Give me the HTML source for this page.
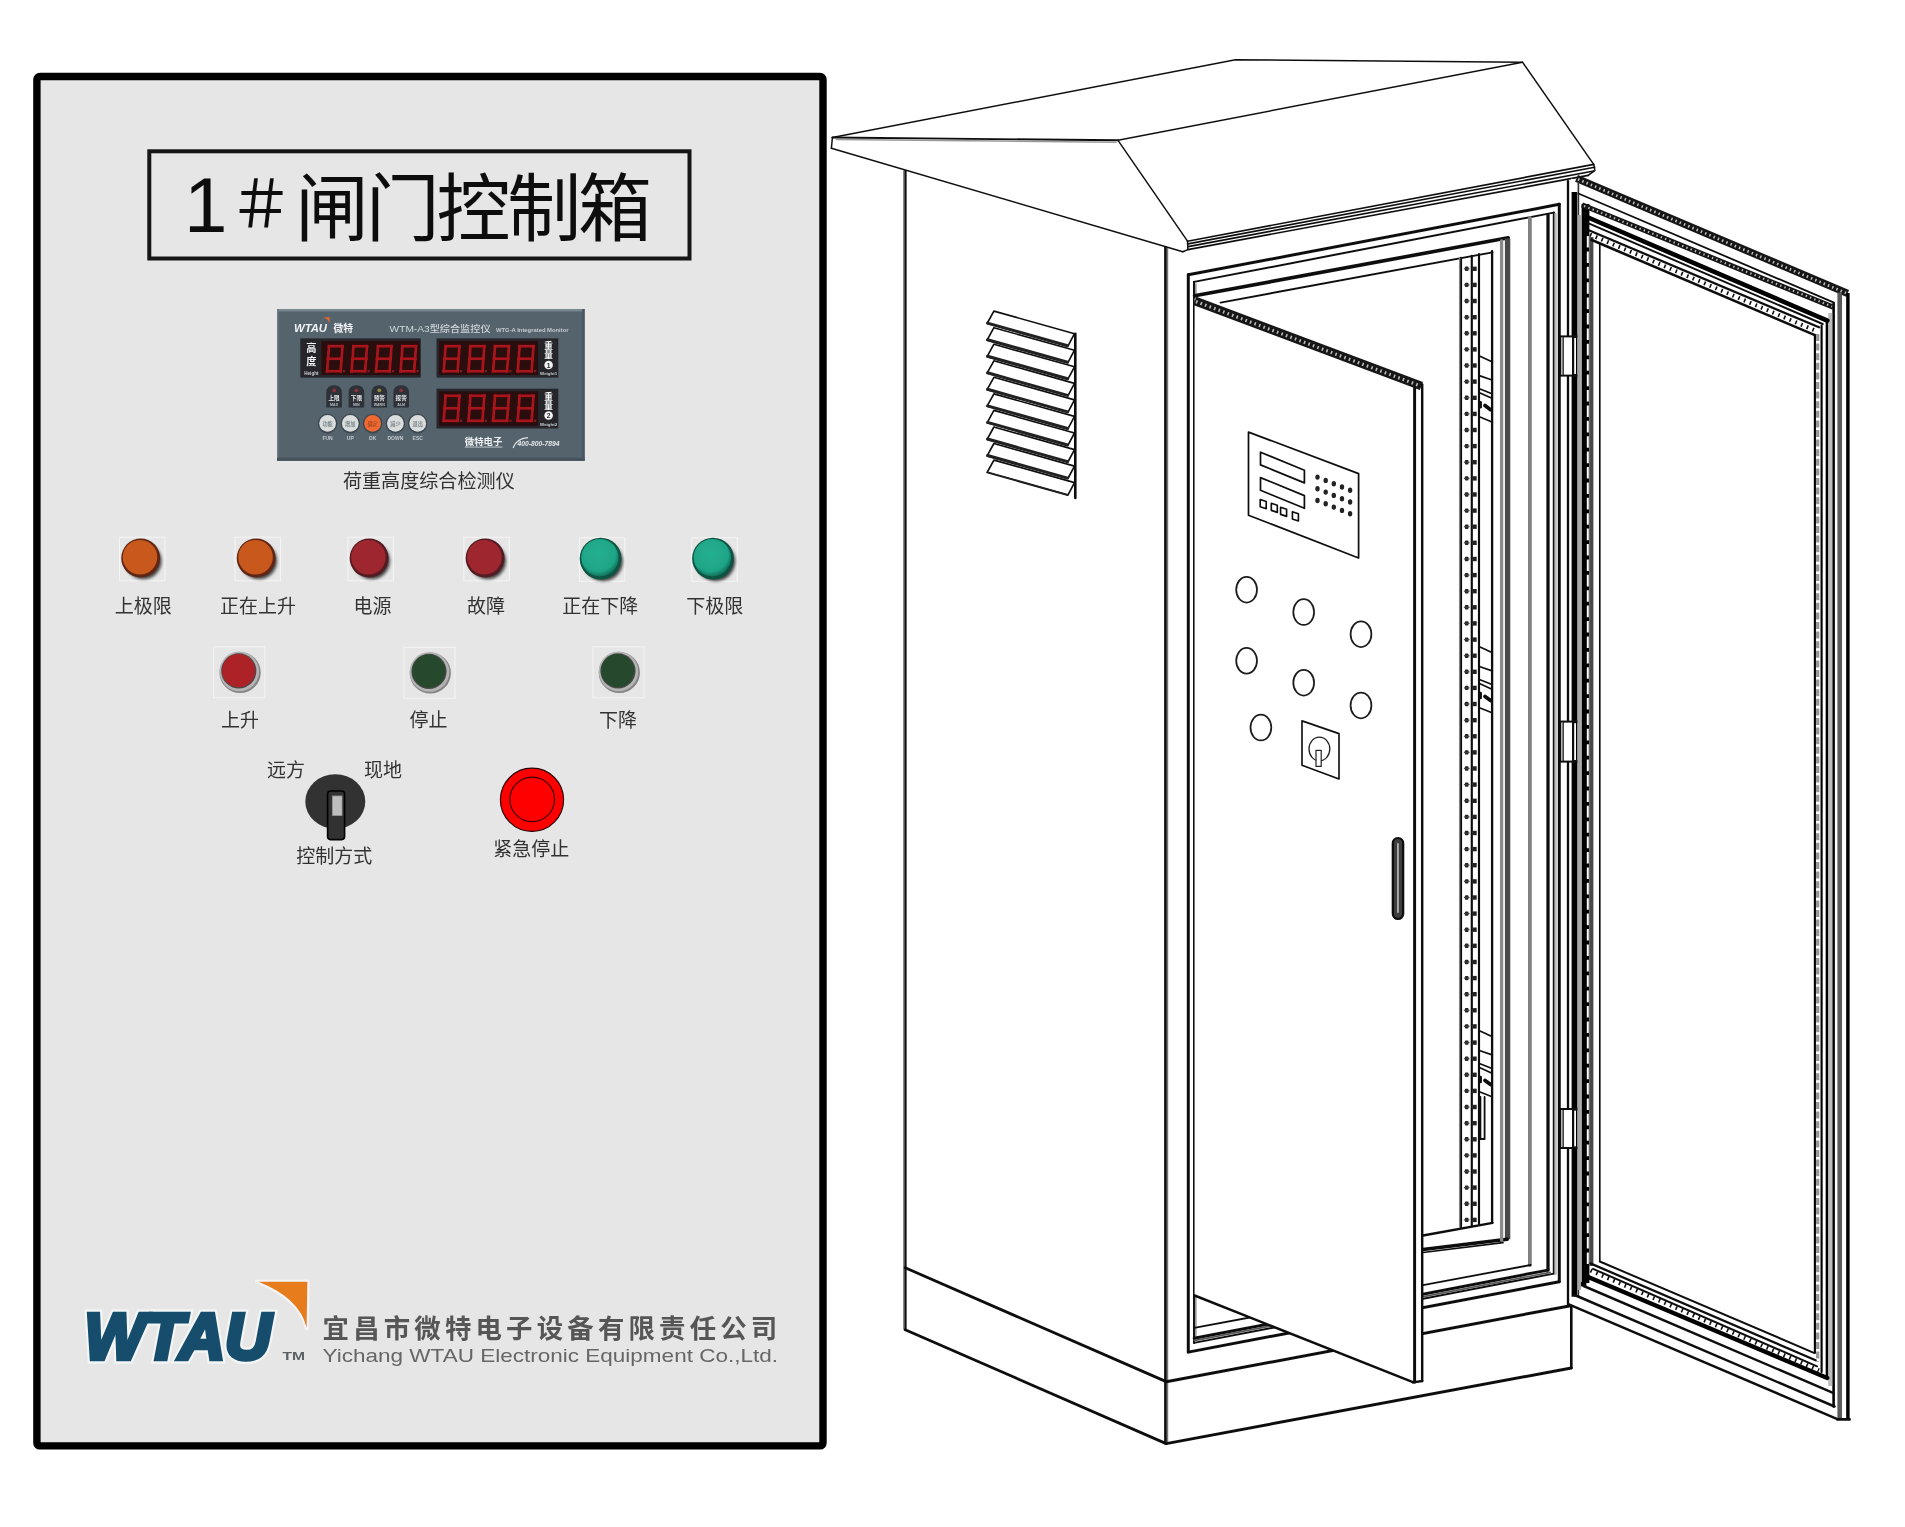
<!DOCTYPE html>
<html lang="zh-CN"><head><meta charset="utf-8"><title>1＃闸门控制箱</title>
<style>html,body{margin:0;padding:0;background:#fff;}body{width:1905px;height:1527px;overflow:hidden;}svg{display:block;}text{font-family:"Liberation Sans", "Noto Sans CJK SC", sans-serif;}</style>
</head><body>
<svg width="1905" height="1527" viewBox="0 0 1905 1527">
<defs>
<filter id="b1" x="-20%" y="-20%" width="140%" height="140%"><feGaussianBlur stdDeviation="0.6"/></filter>
<filter id="b2" x="-30%" y="-30%" width="160%" height="160%"><feGaussianBlur stdDeviation="1.6"/></filter>
<filter id="bl" x="-2%" y="-2%" width="104%" height="104%"><feGaussianBlur stdDeviation="0.35"/></filter>
<filter id="bd" x="-2%" y="-2%" width="104%" height="104%"><feGaussianBlur stdDeviation="0.7"/></filter>
<filter id="bt" x="-5%" y="-20%" width="110%" height="140%"><feGaussianBlur stdDeviation="0.45"/></filter>
<radialGradient id="gOrange" cx="45%" cy="42%" r="60%"><stop offset="0" stop-color="#cf5b1c"/><stop offset="0.8" stop-color="#c8561b"/><stop offset="1" stop-color="#8a3a1a"/></radialGradient>
<radialGradient id="gRed" cx="45%" cy="42%" r="60%"><stop offset="0" stop-color="#a32630"/><stop offset="0.8" stop-color="#9c242d"/><stop offset="1" stop-color="#6a1a22"/></radialGradient>
<radialGradient id="gGreen" cx="45%" cy="40%" r="62%"><stop offset="0" stop-color="#22b090"/><stop offset="0.75" stop-color="#1fa587"/><stop offset="1" stop-color="#0e6a55"/></radialGradient>
</defs>
<rect x="36.9" y="76.5" width="786.1" height="1369.4" rx="3" ry="3" fill="#e6e6e6" stroke="#000" stroke-width="7.4"/>
<rect x="149.3" y="151.3" width="540.2" height="107.2" fill="none" stroke="#161616" stroke-width="4" filter="url(#bt)"/>
<text y="234.5" font-size="74" fill="#0c0c0c" font-weight="400" filter="url(#bt)"><tspan x="184" font-size="78" y="231.6">1</tspan><tspan x="229" font-size="64" y="227.2">＃</tspan><tspan x="294.9 365.7 436.5 507.3 578.1" y="234.5">闸门控制箱</tspan></text>
<g filter="url(#bd)">
<rect x="277" y="309" width="307.6" height="151.8" fill="#55636d"/>
<rect x="277" y="309" width="307.6" height="2.4" fill="#768890"/>
<rect x="277" y="309" width="1.6" height="151.8" fill="#6a7a82"/>
<rect x="277" y="457.6" width="307.6" height="3.2" fill="#47535c"/>
<rect x="582.2" y="309" width="2.4" height="151.8" fill="#495660"/>
<text x="294.0" y="332.4" font-size="10.5" fill="#f1f3f4" text-anchor="start" font-weight="700" font-style="italic" textLength="33" lengthAdjust="spacingAndGlyphs">WTAU</text>
<path d="M323.5 317.2 L329.6 317.2 L329.6 323.6 Q328.6 319.2 323.5 317.2 Z" fill="#e8642a"/>
<text x="333.4" y="331.8" font-size="9.8" fill="#f1f3f4" text-anchor="start" font-weight="700" >微特</text>
<text x="389.6" y="331.8" font-size="9.4" fill="#cfd5d9" text-anchor="start" font-weight="500" textLength="101" lengthAdjust="spacingAndGlyphs">WTM-A3型综合监控仪</text>
<text x="496.0" y="331.6" font-size="6.2" fill="#c4cbd0" text-anchor="start" font-weight="700" textLength="72.5" lengthAdjust="spacingAndGlyphs">WTG-A Integrated Monitor</text>
<rect x="300.3" y="338.4" width="120.5" height="39.2" fill="#25272c"/>
<rect x="321.3" y="341" width="98.7" height="34" fill="#2b0c10"/>
<line x1="329.0" y1="346.2" x2="342.5" y2="346.2" stroke="#a8151d" stroke-width="2.7" stroke-linecap="square"/>
<line x1="342.5" y1="346.2" x2="341.6" y2="358.7" stroke="#a8151d" stroke-width="2.7" stroke-linecap="square"/>
<line x1="341.6" y1="358.7" x2="340.6" y2="371.2" stroke="#a8151d" stroke-width="2.7" stroke-linecap="square"/>
<line x1="327.1" y1="371.2" x2="340.6" y2="371.2" stroke="#a8151d" stroke-width="2.7" stroke-linecap="square"/>
<line x1="328.1" y1="358.7" x2="327.1" y2="371.2" stroke="#a8151d" stroke-width="2.7" stroke-linecap="square"/>
<line x1="329.0" y1="346.2" x2="328.1" y2="358.7" stroke="#a8151d" stroke-width="2.7" stroke-linecap="square"/>
<line x1="328.1" y1="358.7" x2="341.6" y2="358.7" stroke="#a8151d" stroke-width="2.7" stroke-linecap="square"/>
<rect x="343.0" y="370.0" width="2.2" height="2.4" fill="#7a1a20"/>
<line x1="353.5" y1="346.2" x2="367.0" y2="346.2" stroke="#a8151d" stroke-width="2.7" stroke-linecap="square"/>
<line x1="367.0" y1="346.2" x2="366.1" y2="358.7" stroke="#a8151d" stroke-width="2.7" stroke-linecap="square"/>
<line x1="366.1" y1="358.7" x2="365.1" y2="371.2" stroke="#a8151d" stroke-width="2.7" stroke-linecap="square"/>
<line x1="351.6" y1="371.2" x2="365.1" y2="371.2" stroke="#a8151d" stroke-width="2.7" stroke-linecap="square"/>
<line x1="352.6" y1="358.7" x2="351.6" y2="371.2" stroke="#a8151d" stroke-width="2.7" stroke-linecap="square"/>
<line x1="353.5" y1="346.2" x2="352.6" y2="358.7" stroke="#a8151d" stroke-width="2.7" stroke-linecap="square"/>
<line x1="352.6" y1="358.7" x2="366.1" y2="358.7" stroke="#a8151d" stroke-width="2.7" stroke-linecap="square"/>
<rect x="367.5" y="370.0" width="2.2" height="2.4" fill="#7a1a20"/>
<line x1="378.0" y1="346.2" x2="391.5" y2="346.2" stroke="#a8151d" stroke-width="2.7" stroke-linecap="square"/>
<line x1="391.5" y1="346.2" x2="390.6" y2="358.7" stroke="#a8151d" stroke-width="2.7" stroke-linecap="square"/>
<line x1="390.6" y1="358.7" x2="389.6" y2="371.2" stroke="#a8151d" stroke-width="2.7" stroke-linecap="square"/>
<line x1="376.1" y1="371.2" x2="389.6" y2="371.2" stroke="#a8151d" stroke-width="2.7" stroke-linecap="square"/>
<line x1="377.1" y1="358.7" x2="376.1" y2="371.2" stroke="#a8151d" stroke-width="2.7" stroke-linecap="square"/>
<line x1="378.0" y1="346.2" x2="377.1" y2="358.7" stroke="#a8151d" stroke-width="2.7" stroke-linecap="square"/>
<line x1="377.1" y1="358.7" x2="390.6" y2="358.7" stroke="#a8151d" stroke-width="2.7" stroke-linecap="square"/>
<rect x="392.0" y="370.0" width="2.2" height="2.4" fill="#7a1a20"/>
<line x1="402.5" y1="346.2" x2="416.0" y2="346.2" stroke="#a8151d" stroke-width="2.7" stroke-linecap="square"/>
<line x1="416.0" y1="346.2" x2="415.1" y2="358.7" stroke="#a8151d" stroke-width="2.7" stroke-linecap="square"/>
<line x1="415.1" y1="358.7" x2="414.1" y2="371.2" stroke="#a8151d" stroke-width="2.7" stroke-linecap="square"/>
<line x1="400.6" y1="371.2" x2="414.1" y2="371.2" stroke="#a8151d" stroke-width="2.7" stroke-linecap="square"/>
<line x1="401.6" y1="358.7" x2="400.6" y2="371.2" stroke="#a8151d" stroke-width="2.7" stroke-linecap="square"/>
<line x1="402.5" y1="346.2" x2="401.6" y2="358.7" stroke="#a8151d" stroke-width="2.7" stroke-linecap="square"/>
<line x1="401.6" y1="358.7" x2="415.1" y2="358.7" stroke="#a8151d" stroke-width="2.7" stroke-linecap="square"/>
<rect x="416.5" y="370.0" width="2.2" height="2.4" fill="#7a1a20"/>
<rect x="436.5" y="338.4" width="121.8" height="39.2" fill="#25272c"/>
<rect x="439.2" y="341" width="99" height="34" fill="#2b0c10"/>
<line x1="445.6" y1="346.2" x2="459.5" y2="346.2" stroke="#a8151d" stroke-width="2.7" stroke-linecap="square"/>
<line x1="459.5" y1="346.2" x2="458.6" y2="358.7" stroke="#a8151d" stroke-width="2.7" stroke-linecap="square"/>
<line x1="458.6" y1="358.7" x2="457.6" y2="371.2" stroke="#a8151d" stroke-width="2.7" stroke-linecap="square"/>
<line x1="443.7" y1="371.2" x2="457.6" y2="371.2" stroke="#a8151d" stroke-width="2.7" stroke-linecap="square"/>
<line x1="444.7" y1="358.7" x2="443.7" y2="371.2" stroke="#a8151d" stroke-width="2.7" stroke-linecap="square"/>
<line x1="445.6" y1="346.2" x2="444.7" y2="358.7" stroke="#a8151d" stroke-width="2.7" stroke-linecap="square"/>
<line x1="444.7" y1="358.7" x2="458.6" y2="358.7" stroke="#a8151d" stroke-width="2.7" stroke-linecap="square"/>
<rect x="460.0" y="370.0" width="2.2" height="2.4" fill="#7a1a20"/>
<line x1="470.4" y1="346.2" x2="484.3" y2="346.2" stroke="#a8151d" stroke-width="2.7" stroke-linecap="square"/>
<line x1="484.3" y1="346.2" x2="483.4" y2="358.7" stroke="#a8151d" stroke-width="2.7" stroke-linecap="square"/>
<line x1="483.4" y1="358.7" x2="482.4" y2="371.2" stroke="#a8151d" stroke-width="2.7" stroke-linecap="square"/>
<line x1="468.5" y1="371.2" x2="482.4" y2="371.2" stroke="#a8151d" stroke-width="2.7" stroke-linecap="square"/>
<line x1="469.5" y1="358.7" x2="468.5" y2="371.2" stroke="#a8151d" stroke-width="2.7" stroke-linecap="square"/>
<line x1="470.4" y1="346.2" x2="469.5" y2="358.7" stroke="#a8151d" stroke-width="2.7" stroke-linecap="square"/>
<line x1="469.5" y1="358.7" x2="483.4" y2="358.7" stroke="#a8151d" stroke-width="2.7" stroke-linecap="square"/>
<rect x="484.8" y="370.0" width="2.2" height="2.4" fill="#7a1a20"/>
<line x1="495.0" y1="346.2" x2="508.9" y2="346.2" stroke="#a8151d" stroke-width="2.7" stroke-linecap="square"/>
<line x1="508.9" y1="346.2" x2="508.0" y2="358.7" stroke="#a8151d" stroke-width="2.7" stroke-linecap="square"/>
<line x1="508.0" y1="358.7" x2="507.0" y2="371.2" stroke="#a8151d" stroke-width="2.7" stroke-linecap="square"/>
<line x1="493.1" y1="371.2" x2="507.0" y2="371.2" stroke="#a8151d" stroke-width="2.7" stroke-linecap="square"/>
<line x1="494.1" y1="358.7" x2="493.1" y2="371.2" stroke="#a8151d" stroke-width="2.7" stroke-linecap="square"/>
<line x1="495.0" y1="346.2" x2="494.1" y2="358.7" stroke="#a8151d" stroke-width="2.7" stroke-linecap="square"/>
<line x1="494.1" y1="358.7" x2="508.0" y2="358.7" stroke="#a8151d" stroke-width="2.7" stroke-linecap="square"/>
<rect x="509.4" y="370.0" width="2.2" height="2.4" fill="#7a1a20"/>
<line x1="519.6" y1="346.2" x2="533.5" y2="346.2" stroke="#a8151d" stroke-width="2.7" stroke-linecap="square"/>
<line x1="533.5" y1="346.2" x2="532.6" y2="358.7" stroke="#a8151d" stroke-width="2.7" stroke-linecap="square"/>
<line x1="532.6" y1="358.7" x2="531.6" y2="371.2" stroke="#a8151d" stroke-width="2.7" stroke-linecap="square"/>
<line x1="517.7" y1="371.2" x2="531.6" y2="371.2" stroke="#a8151d" stroke-width="2.7" stroke-linecap="square"/>
<line x1="518.7" y1="358.7" x2="517.7" y2="371.2" stroke="#a8151d" stroke-width="2.7" stroke-linecap="square"/>
<line x1="519.6" y1="346.2" x2="518.7" y2="358.7" stroke="#a8151d" stroke-width="2.7" stroke-linecap="square"/>
<line x1="518.7" y1="358.7" x2="532.6" y2="358.7" stroke="#a8151d" stroke-width="2.7" stroke-linecap="square"/>
<rect x="534.0" y="370.0" width="2.2" height="2.4" fill="#7a1a20"/>
<rect x="436.5" y="388.7" width="121.8" height="39.8" fill="#25272c"/>
<rect x="439.2" y="391.4" width="99" height="34.4" fill="#2b0c10"/>
<line x1="445.6" y1="395.8" x2="459.5" y2="395.8" stroke="#a8151d" stroke-width="2.7" stroke-linecap="square"/>
<line x1="459.5" y1="395.8" x2="458.6" y2="408.3" stroke="#a8151d" stroke-width="2.7" stroke-linecap="square"/>
<line x1="458.6" y1="408.3" x2="457.6" y2="420.8" stroke="#a8151d" stroke-width="2.7" stroke-linecap="square"/>
<line x1="443.7" y1="420.8" x2="457.6" y2="420.8" stroke="#a8151d" stroke-width="2.7" stroke-linecap="square"/>
<line x1="444.7" y1="408.3" x2="443.7" y2="420.8" stroke="#a8151d" stroke-width="2.7" stroke-linecap="square"/>
<line x1="445.6" y1="395.8" x2="444.7" y2="408.3" stroke="#a8151d" stroke-width="2.7" stroke-linecap="square"/>
<line x1="444.7" y1="408.3" x2="458.6" y2="408.3" stroke="#a8151d" stroke-width="2.7" stroke-linecap="square"/>
<rect x="460.0" y="419.6" width="2.2" height="2.4" fill="#7a1a20"/>
<line x1="470.4" y1="395.8" x2="484.3" y2="395.8" stroke="#a8151d" stroke-width="2.7" stroke-linecap="square"/>
<line x1="484.3" y1="395.8" x2="483.4" y2="408.3" stroke="#a8151d" stroke-width="2.7" stroke-linecap="square"/>
<line x1="483.4" y1="408.3" x2="482.4" y2="420.8" stroke="#a8151d" stroke-width="2.7" stroke-linecap="square"/>
<line x1="468.5" y1="420.8" x2="482.4" y2="420.8" stroke="#a8151d" stroke-width="2.7" stroke-linecap="square"/>
<line x1="469.5" y1="408.3" x2="468.5" y2="420.8" stroke="#a8151d" stroke-width="2.7" stroke-linecap="square"/>
<line x1="470.4" y1="395.8" x2="469.5" y2="408.3" stroke="#a8151d" stroke-width="2.7" stroke-linecap="square"/>
<line x1="469.5" y1="408.3" x2="483.4" y2="408.3" stroke="#a8151d" stroke-width="2.7" stroke-linecap="square"/>
<rect x="484.8" y="419.6" width="2.2" height="2.4" fill="#7a1a20"/>
<line x1="495.0" y1="395.8" x2="508.9" y2="395.8" stroke="#a8151d" stroke-width="2.7" stroke-linecap="square"/>
<line x1="508.9" y1="395.8" x2="508.0" y2="408.3" stroke="#a8151d" stroke-width="2.7" stroke-linecap="square"/>
<line x1="508.0" y1="408.3" x2="507.0" y2="420.8" stroke="#a8151d" stroke-width="2.7" stroke-linecap="square"/>
<line x1="493.1" y1="420.8" x2="507.0" y2="420.8" stroke="#a8151d" stroke-width="2.7" stroke-linecap="square"/>
<line x1="494.1" y1="408.3" x2="493.1" y2="420.8" stroke="#a8151d" stroke-width="2.7" stroke-linecap="square"/>
<line x1="495.0" y1="395.8" x2="494.1" y2="408.3" stroke="#a8151d" stroke-width="2.7" stroke-linecap="square"/>
<line x1="494.1" y1="408.3" x2="508.0" y2="408.3" stroke="#a8151d" stroke-width="2.7" stroke-linecap="square"/>
<rect x="509.4" y="419.6" width="2.2" height="2.4" fill="#7a1a20"/>
<line x1="519.6" y1="395.8" x2="533.5" y2="395.8" stroke="#a8151d" stroke-width="2.7" stroke-linecap="square"/>
<line x1="533.5" y1="395.8" x2="532.6" y2="408.3" stroke="#a8151d" stroke-width="2.7" stroke-linecap="square"/>
<line x1="532.6" y1="408.3" x2="531.6" y2="420.8" stroke="#a8151d" stroke-width="2.7" stroke-linecap="square"/>
<line x1="517.7" y1="420.8" x2="531.6" y2="420.8" stroke="#a8151d" stroke-width="2.7" stroke-linecap="square"/>
<line x1="518.7" y1="408.3" x2="517.7" y2="420.8" stroke="#a8151d" stroke-width="2.7" stroke-linecap="square"/>
<line x1="519.6" y1="395.8" x2="518.7" y2="408.3" stroke="#a8151d" stroke-width="2.7" stroke-linecap="square"/>
<line x1="518.7" y1="408.3" x2="532.6" y2="408.3" stroke="#a8151d" stroke-width="2.7" stroke-linecap="square"/>
<rect x="534.0" y="419.6" width="2.2" height="2.4" fill="#7a1a20"/>
<text x="311.4" y="351.8" font-size="10.2" fill="#f4f6f7" text-anchor="middle" font-weight="700" >高</text>
<text x="311.4" y="365.2" font-size="10.2" fill="#f4f6f7" text-anchor="middle" font-weight="700" >度</text>
<text x="311.4" y="375.2" font-size="4.6" fill="#c9ced2" text-anchor="middle" font-weight="700" >Height</text>
<text x="548.6" y="349.0" font-size="8.6" fill="#f4f6f7" text-anchor="middle" font-weight="700" >重</text>
<text x="548.6" y="358.0" font-size="8.6" fill="#f4f6f7" text-anchor="middle" font-weight="700" >量</text>
<circle cx="548.6" cy="365.0" r="4.3" fill="#f1f3f4"/>
<text x="548.6" y="367.6" font-size="6.6" fill="#25272c" text-anchor="middle" font-weight="700" >1</text>
<text x="548.6" y="375.0" font-size="4.4" fill="#c9ced2" text-anchor="middle" font-weight="700" >Weight1</text>
<text x="548.6" y="399.5" font-size="8.6" fill="#f4f6f7" text-anchor="middle" font-weight="700" >重</text>
<text x="548.6" y="408.5" font-size="8.6" fill="#f4f6f7" text-anchor="middle" font-weight="700" >量</text>
<circle cx="548.6" cy="415.5" r="4.3" fill="#f1f3f4"/>
<text x="548.6" y="418.1" font-size="6.6" fill="#25272c" text-anchor="middle" font-weight="700" >2</text>
<text x="548.6" y="425.5" font-size="4.4" fill="#c9ced2" text-anchor="middle" font-weight="700" >Weight2</text>
<path d="M326.3 407.6 L326.3 393 Q326.3 385.2 334.1 385.2 Q341.9 385.2 341.9 393 L341.9 407.6 Z" fill="#2d3238"/>
<circle cx="334.1" cy="390.3" r="1.9" fill="#8a3038"/>
<text x="334.1" y="400.4" font-size="5.6" fill="#e4e8ea" text-anchor="middle" font-weight="700" >上限</text>
<text x="334.1" y="405.8" font-size="3.6" fill="#b9c0c5" text-anchor="middle" font-weight="700" >MAX</text>
<path d="M348.6 407.6 L348.6 393 Q348.6 385.2 356.4 385.2 Q364.2 385.2 364.2 393 L364.2 407.6 Z" fill="#2d3238"/>
<circle cx="356.4" cy="390.3" r="1.9" fill="#8a3038"/>
<text x="356.4" y="400.4" font-size="5.6" fill="#e4e8ea" text-anchor="middle" font-weight="700" >下限</text>
<text x="356.4" y="405.8" font-size="3.6" fill="#b9c0c5" text-anchor="middle" font-weight="700" >MIN</text>
<path d="M371.5 407.6 L371.5 393 Q371.5 385.2 379.3 385.2 Q387.1 385.2 387.1 393 L387.1 407.6 Z" fill="#2d3238"/>
<circle cx="379.3" cy="390.3" r="1.9" fill="#8f8638"/>
<text x="379.3" y="400.4" font-size="5.6" fill="#e4e8ea" text-anchor="middle" font-weight="700" >预警</text>
<text x="379.3" y="405.8" font-size="3.6" fill="#b9c0c5" text-anchor="middle" font-weight="700" >WARN</text>
<path d="M393.4 407.6 L393.4 393 Q393.4 385.2 401.2 385.2 Q409.0 385.2 409.0 393 L409.0 407.6 Z" fill="#2d3238"/>
<circle cx="401.2" cy="390.3" r="1.9" fill="#8a3038"/>
<text x="401.2" y="400.4" font-size="5.6" fill="#e4e8ea" text-anchor="middle" font-weight="700" >报警</text>
<text x="401.2" y="405.8" font-size="3.6" fill="#b9c0c5" text-anchor="middle" font-weight="700" >ALM</text>
<circle cx="327.6" cy="423.6" r="9.8" fill="#3c464e"/>
<circle cx="327.6" cy="423.4" r="8.4" fill="#d9dddd"/>
<text x="327.6" y="425.6" font-size="5.2" fill="#7d868b" text-anchor="middle" font-weight="700" >功能</text>
<text x="327.6" y="440.2" font-size="5.0" fill="#c2c9cd" text-anchor="middle" font-weight="700" >FUN</text>
<circle cx="350.3" cy="423.6" r="9.8" fill="#3c464e"/>
<circle cx="350.3" cy="423.4" r="8.4" fill="#d9dddd"/>
<text x="350.3" y="425.6" font-size="5.2" fill="#7d868b" text-anchor="middle" font-weight="700" >增加</text>
<text x="350.3" y="440.2" font-size="5.0" fill="#c2c9cd" text-anchor="middle" font-weight="700" >UP</text>
<circle cx="372.6" cy="423.6" r="9.8" fill="#3c464e"/>
<circle cx="372.6" cy="423.4" r="8.4" fill="#ee6a32"/>
<text x="372.6" y="425.6" font-size="5.2" fill="#b04a22" text-anchor="middle" font-weight="700" >确定</text>
<text x="372.6" y="440.2" font-size="5.0" fill="#c2c9cd" text-anchor="middle" font-weight="700" >OK</text>
<circle cx="395.4" cy="423.6" r="9.8" fill="#3c464e"/>
<circle cx="395.4" cy="423.4" r="8.4" fill="#d9dddd"/>
<text x="395.4" y="425.6" font-size="5.2" fill="#7d868b" text-anchor="middle" font-weight="700" >减少</text>
<text x="395.4" y="440.2" font-size="5.0" fill="#c2c9cd" text-anchor="middle" font-weight="700" >DOWN</text>
<circle cx="417.7" cy="423.6" r="9.8" fill="#3c464e"/>
<circle cx="417.7" cy="423.4" r="8.4" fill="#d9dddd"/>
<text x="417.7" y="425.6" font-size="5.2" fill="#7d868b" text-anchor="middle" font-weight="700" >退出</text>
<text x="417.7" y="440.2" font-size="5.0" fill="#c2c9cd" text-anchor="middle" font-weight="700" >ESC</text>
<text x="464.8" y="445.2" font-size="9.4" fill="#eef1f2" text-anchor="start" font-weight="700" >微特电子</text>
<rect x="464.8" y="446.6" width="37.6" height="0.9" fill="#c9d0d4"/>
<path d="M513 448 Q516 438.6 528 437.6" fill="none" stroke="#dfe4e6" stroke-width="1.1"/>
<text x="517.4" y="446.4" font-size="6.4" fill="#e6eaec" text-anchor="start" font-weight="700" font-style="italic" textLength="42" lengthAdjust="spacingAndGlyphs">400-800-7894</text>
</g>
<text x="428.8" y="487.7" font-size="19.1" fill="#333" text-anchor="middle" font-weight="400" filter="url(#bt)">荷重高度综合检测仪</text>
<rect x="119.5" y="537.2" width="45.4" height="43.6" fill="none" stroke="#f5f5f5" stroke-width="1"/>
<circle cx="143.4" cy="561.1" r="18.2" fill="#2c2c2c" opacity="0.85" filter="url(#b2)"/>
<circle cx="140.7" cy="558.1" r="19.5" fill="#5e2719" filter="url(#b1)"/>
<circle cx="140.0" cy="557.2" r="17.3" fill="#c8581b" filter="url(#b1)"/>
<text x="143.3" y="613.1" font-size="19" fill="#333" text-anchor="middle" font-weight="400" filter="url(#bt)">上极限</text>
<rect x="235.0" y="537.2" width="45.4" height="43.6" fill="none" stroke="#f5f5f5" stroke-width="1"/>
<circle cx="258.9" cy="561.1" r="18.2" fill="#2c2c2c" opacity="0.85" filter="url(#b2)"/>
<circle cx="256.2" cy="558.1" r="19.5" fill="#5e2719" filter="url(#b1)"/>
<circle cx="255.5" cy="557.2" r="17.3" fill="#c8581b" filter="url(#b1)"/>
<text x="257.9" y="613.1" font-size="19" fill="#333" text-anchor="middle" font-weight="400" filter="url(#bt)">正在上升</text>
<rect x="347.9" y="537.2" width="45.4" height="43.6" fill="none" stroke="#f5f5f5" stroke-width="1"/>
<circle cx="371.8" cy="561.1" r="18.2" fill="#2c2c2c" opacity="0.85" filter="url(#b2)"/>
<circle cx="369.1" cy="558.1" r="19.5" fill="#531a22" filter="url(#b1)"/>
<circle cx="368.4" cy="557.2" r="17.3" fill="#9e262f" filter="url(#b1)"/>
<text x="372.6" y="613.1" font-size="19" fill="#333" text-anchor="middle" font-weight="400" filter="url(#bt)">电源</text>
<rect x="463.9" y="537.2" width="45.4" height="43.6" fill="none" stroke="#f5f5f5" stroke-width="1"/>
<circle cx="487.8" cy="561.1" r="18.2" fill="#2c2c2c" opacity="0.85" filter="url(#b2)"/>
<circle cx="485.1" cy="558.1" r="19.5" fill="#531a22" filter="url(#b1)"/>
<circle cx="484.4" cy="557.2" r="17.3" fill="#9e262f" filter="url(#b1)"/>
<text x="486.0" y="613.1" font-size="19" fill="#333" text-anchor="middle" font-weight="400" filter="url(#bt)">故障</text>
<rect x="579.4" y="537.7" width="45.4" height="43.6" fill="none" stroke="#f5f5f5" stroke-width="1"/>
<circle cx="603.3" cy="561.6" r="19.6" fill="#2c2c2c" opacity="0.85" filter="url(#b2)"/>
<circle cx="600.6" cy="558.6" r="20.9" fill="#0d5442" filter="url(#b1)"/>
<circle cx="599.9" cy="557.7" r="18.7" fill="url(#gGreen)" filter="url(#b1)"/>
<text x="600.2" y="613.1" font-size="19" fill="#333" text-anchor="middle" font-weight="400" filter="url(#bt)">正在下降</text>
<rect x="691.8" y="537.7" width="45.4" height="43.6" fill="none" stroke="#f5f5f5" stroke-width="1"/>
<circle cx="715.7" cy="561.6" r="19.6" fill="#2c2c2c" opacity="0.85" filter="url(#b2)"/>
<circle cx="713.0" cy="558.6" r="20.9" fill="#0d5442" filter="url(#b1)"/>
<circle cx="712.3" cy="557.7" r="18.7" fill="url(#gGreen)" filter="url(#b1)"/>
<text x="714.8" y="613.1" font-size="19" fill="#333" text-anchor="middle" font-weight="400" filter="url(#bt)">下极限</text>
<rect x="213.7" y="646.8" width="51" height="51" fill="none" stroke="#f4f4f4" stroke-width="1"/>
<circle cx="240.1" cy="672.5" r="20.6" fill="#858585" filter="url(#b1)"/>
<circle cx="239.3" cy="671.4" r="19.8" fill="#b4b4b4" filter="url(#b1)"/>
<circle cx="238.8" cy="670.9" r="17.6" fill="#4a4a4a" filter="url(#b1)"/>
<circle cx="238.6" cy="670.7" r="16.6" fill="#ac2228" filter="url(#b1)"/>
<text x="240.1" y="727.2" font-size="19" fill="#333" text-anchor="middle" font-weight="400" filter="url(#bt)">上升</text>
<rect x="403.9" y="647.3" width="51" height="51" fill="none" stroke="#f4f4f4" stroke-width="1"/>
<circle cx="430.3" cy="673.0" r="20.6" fill="#858585" filter="url(#b1)"/>
<circle cx="429.5" cy="671.9" r="19.8" fill="#b4b4b4" filter="url(#b1)"/>
<circle cx="429.0" cy="671.4" r="17.6" fill="#4a4a4a" filter="url(#b1)"/>
<circle cx="428.8" cy="671.2" r="16.6" fill="#264a2e" filter="url(#b1)"/>
<text x="428.6" y="727.2" font-size="19" fill="#333" text-anchor="middle" font-weight="400" filter="url(#bt)">停止</text>
<rect x="592.9" y="646.8" width="51" height="51" fill="none" stroke="#f4f4f4" stroke-width="1"/>
<circle cx="619.3" cy="672.5" r="20.6" fill="#858585" filter="url(#b1)"/>
<circle cx="618.5" cy="671.4" r="19.8" fill="#b4b4b4" filter="url(#b1)"/>
<circle cx="618.0" cy="670.9" r="17.6" fill="#4a4a4a" filter="url(#b1)"/>
<circle cx="617.8" cy="670.7" r="16.6" fill="#264a2e" filter="url(#b1)"/>
<text x="618.0" y="727.2" font-size="19" fill="#333" text-anchor="middle" font-weight="400" filter="url(#bt)">下降</text>
<text x="285.9" y="777.1" font-size="19" fill="#333" text-anchor="middle" font-weight="400" filter="url(#bt)">远方</text>
<text x="383.1" y="776.5" font-size="19" fill="#333" text-anchor="middle" font-weight="400" filter="url(#bt)">现地</text>
<ellipse cx="335.3" cy="801.5" rx="30" ry="27.2" fill="#333" filter="url(#b1)"/>
<rect x="327.6" y="791" width="17" height="48.6" rx="3" ry="3" fill="#333" stroke="#000" stroke-width="1.6" filter="url(#b1)"/>
<rect x="332.4" y="796" width="9.6" height="19.4" fill="#bdbdbd" stroke="#999" stroke-width="0.8" filter="url(#b1)"/>
<text x="334.3" y="863.3" font-size="19" fill="#333" text-anchor="middle" font-weight="400" filter="url(#bt)">控制方式</text>
<circle cx="532" cy="799.8" r="31.6" fill="#fe0000" stroke="#2a0000" stroke-width="1.2" filter="url(#b1)"/>
<circle cx="532.2" cy="799.4" r="22.3" fill="none" stroke="#3a0000" stroke-width="1.2" filter="url(#b1)"/>
<text x="531.2" y="855.5" font-size="19" fill="#333" text-anchor="middle" font-weight="400" filter="url(#bt)">紧急停止</text>
<g filter="url(#bd)">
<text x="84.6" y="1358.8" font-size="65.5" fill="#f6f8f8" text-anchor="start" font-weight="700" font-style="italic" textLength="186.5" lengthAdjust="spacingAndGlyphs" stroke-linejoin="miter" stroke="#f6f8f8" stroke-width="9" opacity="0.9">WTAU</text>
<text x="84.6" y="1358.8" font-size="65.5" fill="#134d6c" text-anchor="start" font-weight="700" font-style="italic" textLength="186.5" lengthAdjust="spacingAndGlyphs" stroke-linejoin="miter" stroke="#134d6c" stroke-width="4.6">WTAU</text>
<path d="M257 1281.4 L307.6 1281.4 L306.8 1328.4 Q299.5 1298 257 1281.4 Z" fill="#f4f4f4" stroke="#f4f4f4" stroke-width="4" stroke-linejoin="round"/>
<path d="M258.5 1281.8 L307.4 1281.8 L306.6 1327.6 Q299.5 1298 258.5 1281.8 Z" fill="#e77c1e"/>
<text x="282.4" y="1360.4" font-size="10" fill="#5a6064" text-anchor="start" font-weight="700" textLength="22.6" lengthAdjust="spacingAndGlyphs">TM</text>
<text x="322.6" y="1337.6" font-size="26.4" fill="#565656" text-anchor="start" font-weight="700" textLength="454.6" lengthAdjust="spacing">宜昌市微特电子设备有限责任公司</text>
<text x="322.6" y="1362.0" font-size="17.9" fill="#666" text-anchor="start" font-weight="400" textLength="455.4" lengthAdjust="spacingAndGlyphs">Yichang WTAU Electronic Equipment Co.,Ltd.</text>
</g>
<g stroke-linecap="round" filter="url(#bl)">
<line x1="905.4" y1="169.8" x2="905.4" y2="1329.7" stroke="#111" stroke-width="2.47" />
<line x1="903.8" y1="171.0" x2="903.8" y2="1329.0" stroke="#777" stroke-width="1.32" />
<line x1="1165.6" y1="245.0" x2="1165.6" y2="1443.6" stroke="#111" stroke-width="2.97" />
<line x1="1167.4" y1="245.0" x2="1167.4" y2="1443.6" stroke="#777" stroke-width="1.65" />
<line x1="905.2" y1="1267.8" x2="1166.2" y2="1381.6" stroke="#111" stroke-width="2.8" />
<line x1="905.2" y1="1329.7" x2="1166.2" y2="1443.6" stroke="#111" stroke-width="2.8" />
<line x1="1166.2" y1="1381.8" x2="1570.6" y2="1305.7" stroke="#111" stroke-width="2.97" />
<line x1="1166.2" y1="1443.6" x2="1571.3" y2="1368.0" stroke="#111" stroke-width="2.97" />
<line x1="1571.3" y1="1305.7" x2="1571.3" y2="1368.0" stroke="#111" stroke-width="2.64" />
<line x1="1568.0" y1="181.2" x2="1568.0" y2="1306.0" stroke="#111" stroke-width="2.31" />
<polygon points="993.9,311.1 1074.5,333.7 1067.9,346.1 987.1,323.5" fill="#fff" stroke="#111" stroke-width="1.65" stroke-linejoin="round" />
<line x1="987.6" y1="323.1" x2="1067.6" y2="345.7" stroke="#222" stroke-width="2.97" />
<polygon points="993.9,327.7 1074.5,350.2 1067.9,362.7 987.1,340.1" fill="#fff" stroke="#111" stroke-width="1.65" stroke-linejoin="round" />
<line x1="987.6" y1="339.7" x2="1067.6" y2="362.3" stroke="#222" stroke-width="2.97" />
<polygon points="993.9,344.2 1074.5,366.8 1067.9,379.2 987.1,356.6" fill="#fff" stroke="#111" stroke-width="1.65" stroke-linejoin="round" />
<line x1="987.6" y1="356.2" x2="1067.6" y2="378.8" stroke="#222" stroke-width="2.97" />
<polygon points="993.9,360.8 1074.5,383.4 1067.9,395.8 987.1,373.1" fill="#fff" stroke="#111" stroke-width="1.65" stroke-linejoin="round" />
<line x1="987.6" y1="372.8" x2="1067.6" y2="395.4" stroke="#222" stroke-width="2.97" />
<polygon points="993.9,377.3 1074.5,399.9 1067.9,412.3 987.1,389.7" fill="#fff" stroke="#111" stroke-width="1.65" stroke-linejoin="round" />
<line x1="987.6" y1="389.3" x2="1067.6" y2="411.9" stroke="#222" stroke-width="2.97" />
<polygon points="993.9,393.9 1074.5,416.4 1067.9,428.9 987.1,406.2" fill="#fff" stroke="#111" stroke-width="1.65" stroke-linejoin="round" />
<line x1="987.6" y1="405.9" x2="1067.6" y2="428.5" stroke="#222" stroke-width="2.97" />
<polygon points="993.9,410.4 1074.5,433.0 1067.9,445.4 987.1,422.8" fill="#fff" stroke="#111" stroke-width="1.65" stroke-linejoin="round" />
<line x1="987.6" y1="422.4" x2="1067.6" y2="445.0" stroke="#222" stroke-width="2.97" />
<polygon points="993.9,427.0 1074.5,449.6 1067.9,462.0 987.1,439.4" fill="#fff" stroke="#111" stroke-width="1.65" stroke-linejoin="round" />
<line x1="987.6" y1="439.0" x2="1067.6" y2="461.6" stroke="#222" stroke-width="2.97" />
<polygon points="993.9,443.5 1074.5,466.1 1067.9,478.5 987.1,455.9" fill="#fff" stroke="#111" stroke-width="1.65" stroke-linejoin="round" />
<line x1="987.6" y1="455.5" x2="1067.6" y2="478.1" stroke="#222" stroke-width="2.97" />
<polygon points="993.9,460.1 1074.5,482.6 1067.9,495.1 987.1,472.5" fill="#fff" stroke="#111" stroke-width="1.65" stroke-linejoin="round" />
<line x1="987.6" y1="472.1" x2="1067.6" y2="494.7" stroke="#222" stroke-width="1.48" />
<line x1="1075.3" y1="333.7" x2="1075.3" y2="498.0" stroke="#111" stroke-width="2.64" />
<line x1="1188.3" y1="274.8" x2="1559.3" y2="204.3" stroke="#111" stroke-width="2.97" />
<line x1="1559.3" y1="204.3" x2="1559.3" y2="1281.7" stroke="#111" stroke-width="2.97" />
<line x1="1188.3" y1="1352.1" x2="1559.3" y2="1281.7" stroke="#111" stroke-width="2.97" />
<line x1="1188.3" y1="274.8" x2="1188.3" y2="1352.1" stroke="#111" stroke-width="2.97" />
<line x1="1194.0" y1="281.9" x2="1553.8" y2="212.6" stroke="#111" stroke-width="1.98" />
<line x1="1553.8" y1="212.6" x2="1553.8" y2="1273.6" stroke="#111" stroke-width="1.98" />
<line x1="1194.0" y1="1342.9" x2="1553.8" y2="1273.6" stroke="#111" stroke-width="1.98" />
<line x1="1194.0" y1="281.9" x2="1194.0" y2="1342.9" stroke="#111" stroke-width="1.98" />
<line x1="1555.6" y1="214.0" x2="1555.6" y2="1274.0" stroke="#bbb" stroke-width="2.31" />
<line x1="1195.8" y1="284.0" x2="1195.8" y2="1341.0" stroke="#999" stroke-width="1.65" />
<line x1="1548.0" y1="215.4" x2="1548.0" y2="1270.1" stroke="#111" stroke-width="3.3" />
<line x1="1194.2" y1="1338.3" x2="1548.0" y2="1270.1" stroke="#111" stroke-width="2.97" />
<line x1="1194.2" y1="1340.6" x2="1550.0" y2="1272.4" stroke="#555" stroke-width="1.65" />
<line x1="1529.9" y1="217.8" x2="1529.9" y2="1265.0" stroke="#808080" stroke-width="3.79" />
<line x1="1194.2" y1="1327.9" x2="1530.6" y2="1265.0" stroke="#111" stroke-width="1.81" />
<line x1="1194.6" y1="295.7" x2="1508.2" y2="237.8" stroke="#111" stroke-width="3.63" />
<line x1="1507.6" y1="238.4" x2="1507.6" y2="1239.2" stroke="#484848" stroke-width="5.4" stroke-linecap="butt"/>
<line x1="1423.0" y1="1249.5" x2="1507.2" y2="1239.2" stroke="#111" stroke-width="3.63" />
<line x1="1423.0" y1="1252.5" x2="1503.0" y2="1242.6" stroke="#111" stroke-width="1.65" />
<line x1="1501.6" y1="241.0" x2="1501.6" y2="1240.0" stroke="#8a8a8a" stroke-width="3.3" />
<line x1="1220.6" y1="302.6" x2="1492.4" y2="252.4" stroke="#111" stroke-width="1.98" />
<line x1="1492.1" y1="251.1" x2="1492.1" y2="1222.8" stroke="#111" stroke-width="2.31" />
<line x1="1423.0" y1="1235.5" x2="1492.6" y2="1222.8" stroke="#111" stroke-width="2.31" />
<line x1="1461.0" y1="257.7" x2="1461.0" y2="1227.4" stroke="#111" stroke-width="2.15" />
<line x1="1459.6" y1="258.0" x2="1459.6" y2="1227.6" stroke="#888" stroke-width="1.32" />
<line x1="1471.8" y1="255.7" x2="1471.8" y2="1225.5" stroke="#111" stroke-width="2.15" />
<line x1="1479.0" y1="254.0" x2="1479.0" y2="1224.0" stroke="#111" stroke-width="2.15" />
<rect x="1464.9" y="266.6" width="3.6" height="4.4" rx="1" fill="#222"/>
<rect x="1463.9" y="268.2" width="5.6" height="1.2" fill="#444"/>
<rect x="1472.9" y="266.6" width="3.8" height="4.4" fill="#222"/>
<rect x="1464.9" y="282.7" width="3.6" height="4.4" rx="1" fill="#222"/>
<rect x="1463.9" y="284.3" width="5.6" height="1.2" fill="#444"/>
<rect x="1472.9" y="282.7" width="3.8" height="4.4" fill="#222"/>
<rect x="1464.9" y="298.8" width="3.6" height="4.4" rx="1" fill="#222"/>
<rect x="1463.9" y="300.4" width="5.6" height="1.2" fill="#444"/>
<rect x="1472.9" y="298.8" width="3.8" height="4.4" fill="#222"/>
<rect x="1464.9" y="315.0" width="3.6" height="4.4" rx="1" fill="#222"/>
<rect x="1463.9" y="316.6" width="5.6" height="1.2" fill="#444"/>
<rect x="1472.9" y="315.0" width="3.8" height="4.4" fill="#222"/>
<rect x="1464.9" y="331.1" width="3.6" height="4.4" rx="1" fill="#222"/>
<rect x="1463.9" y="332.7" width="5.6" height="1.2" fill="#444"/>
<rect x="1472.9" y="331.1" width="3.8" height="4.4" fill="#222"/>
<rect x="1464.9" y="347.2" width="3.6" height="4.4" rx="1" fill="#222"/>
<rect x="1463.9" y="348.8" width="5.6" height="1.2" fill="#444"/>
<rect x="1472.9" y="347.2" width="3.8" height="4.4" fill="#222"/>
<rect x="1464.9" y="363.3" width="3.6" height="4.4" rx="1" fill="#222"/>
<rect x="1463.9" y="364.9" width="5.6" height="1.2" fill="#444"/>
<rect x="1472.9" y="363.3" width="3.8" height="4.4" fill="#222"/>
<rect x="1464.9" y="379.4" width="3.6" height="4.4" rx="1" fill="#222"/>
<rect x="1463.9" y="381.0" width="5.6" height="1.2" fill="#444"/>
<rect x="1472.9" y="379.4" width="3.8" height="4.4" fill="#222"/>
<rect x="1464.9" y="395.6" width="3.6" height="4.4" rx="1" fill="#222"/>
<rect x="1463.9" y="397.2" width="5.6" height="1.2" fill="#444"/>
<rect x="1472.9" y="395.6" width="3.8" height="4.4" fill="#222"/>
<rect x="1464.9" y="411.7" width="3.6" height="4.4" rx="1" fill="#222"/>
<rect x="1463.9" y="413.3" width="5.6" height="1.2" fill="#444"/>
<rect x="1472.9" y="411.7" width="3.8" height="4.4" fill="#222"/>
<rect x="1464.9" y="427.8" width="3.6" height="4.4" rx="1" fill="#222"/>
<rect x="1463.9" y="429.4" width="5.6" height="1.2" fill="#444"/>
<rect x="1472.9" y="427.8" width="3.8" height="4.4" fill="#222"/>
<rect x="1464.9" y="443.9" width="3.6" height="4.4" rx="1" fill="#222"/>
<rect x="1463.9" y="445.5" width="5.6" height="1.2" fill="#444"/>
<rect x="1472.9" y="443.9" width="3.8" height="4.4" fill="#222"/>
<rect x="1464.9" y="460.0" width="3.6" height="4.4" rx="1" fill="#222"/>
<rect x="1463.9" y="461.6" width="5.6" height="1.2" fill="#444"/>
<rect x="1472.9" y="460.0" width="3.8" height="4.4" fill="#222"/>
<rect x="1464.9" y="476.2" width="3.6" height="4.4" rx="1" fill="#222"/>
<rect x="1463.9" y="477.8" width="5.6" height="1.2" fill="#444"/>
<rect x="1472.9" y="476.2" width="3.8" height="4.4" fill="#222"/>
<rect x="1464.9" y="492.3" width="3.6" height="4.4" rx="1" fill="#222"/>
<rect x="1463.9" y="493.9" width="5.6" height="1.2" fill="#444"/>
<rect x="1472.9" y="492.3" width="3.8" height="4.4" fill="#222"/>
<rect x="1464.9" y="508.4" width="3.6" height="4.4" rx="1" fill="#222"/>
<rect x="1463.9" y="510.0" width="5.6" height="1.2" fill="#444"/>
<rect x="1472.9" y="508.4" width="3.8" height="4.4" fill="#222"/>
<rect x="1464.9" y="524.5" width="3.6" height="4.4" rx="1" fill="#222"/>
<rect x="1463.9" y="526.1" width="5.6" height="1.2" fill="#444"/>
<rect x="1472.9" y="524.5" width="3.8" height="4.4" fill="#222"/>
<rect x="1464.9" y="540.6" width="3.6" height="4.4" rx="1" fill="#222"/>
<rect x="1463.9" y="542.2" width="5.6" height="1.2" fill="#444"/>
<rect x="1472.9" y="540.6" width="3.8" height="4.4" fill="#222"/>
<rect x="1464.9" y="556.8" width="3.6" height="4.4" rx="1" fill="#222"/>
<rect x="1463.9" y="558.4" width="5.6" height="1.2" fill="#444"/>
<rect x="1472.9" y="556.8" width="3.8" height="4.4" fill="#222"/>
<rect x="1464.9" y="572.9" width="3.6" height="4.4" rx="1" fill="#222"/>
<rect x="1463.9" y="574.5" width="5.6" height="1.2" fill="#444"/>
<rect x="1472.9" y="572.9" width="3.8" height="4.4" fill="#222"/>
<rect x="1464.9" y="589.0" width="3.6" height="4.4" rx="1" fill="#222"/>
<rect x="1463.9" y="590.6" width="5.6" height="1.2" fill="#444"/>
<rect x="1472.9" y="589.0" width="3.8" height="4.4" fill="#222"/>
<rect x="1464.9" y="605.1" width="3.6" height="4.4" rx="1" fill="#222"/>
<rect x="1463.9" y="606.7" width="5.6" height="1.2" fill="#444"/>
<rect x="1472.9" y="605.1" width="3.8" height="4.4" fill="#222"/>
<rect x="1464.9" y="621.2" width="3.6" height="4.4" rx="1" fill="#222"/>
<rect x="1463.9" y="622.8" width="5.6" height="1.2" fill="#444"/>
<rect x="1472.9" y="621.2" width="3.8" height="4.4" fill="#222"/>
<rect x="1464.9" y="637.4" width="3.6" height="4.4" rx="1" fill="#222"/>
<rect x="1463.9" y="639.0" width="5.6" height="1.2" fill="#444"/>
<rect x="1472.9" y="637.4" width="3.8" height="4.4" fill="#222"/>
<rect x="1464.9" y="653.5" width="3.6" height="4.4" rx="1" fill="#222"/>
<rect x="1463.9" y="655.1" width="5.6" height="1.2" fill="#444"/>
<rect x="1472.9" y="653.5" width="3.8" height="4.4" fill="#222"/>
<rect x="1464.9" y="669.6" width="3.6" height="4.4" rx="1" fill="#222"/>
<rect x="1463.9" y="671.2" width="5.6" height="1.2" fill="#444"/>
<rect x="1472.9" y="669.6" width="3.8" height="4.4" fill="#222"/>
<rect x="1464.9" y="685.7" width="3.6" height="4.4" rx="1" fill="#222"/>
<rect x="1463.9" y="687.3" width="5.6" height="1.2" fill="#444"/>
<rect x="1472.9" y="685.7" width="3.8" height="4.4" fill="#222"/>
<rect x="1464.9" y="701.8" width="3.6" height="4.4" rx="1" fill="#222"/>
<rect x="1463.9" y="703.4" width="5.6" height="1.2" fill="#444"/>
<rect x="1472.9" y="701.8" width="3.8" height="4.4" fill="#222"/>
<rect x="1464.9" y="718.0" width="3.6" height="4.4" rx="1" fill="#222"/>
<rect x="1463.9" y="719.6" width="5.6" height="1.2" fill="#444"/>
<rect x="1472.9" y="718.0" width="3.8" height="4.4" fill="#222"/>
<rect x="1464.9" y="734.1" width="3.6" height="4.4" rx="1" fill="#222"/>
<rect x="1463.9" y="735.7" width="5.6" height="1.2" fill="#444"/>
<rect x="1472.9" y="734.1" width="3.8" height="4.4" fill="#222"/>
<rect x="1464.9" y="750.2" width="3.6" height="4.4" rx="1" fill="#222"/>
<rect x="1463.9" y="751.8" width="5.6" height="1.2" fill="#444"/>
<rect x="1472.9" y="750.2" width="3.8" height="4.4" fill="#222"/>
<rect x="1464.9" y="766.3" width="3.6" height="4.4" rx="1" fill="#222"/>
<rect x="1463.9" y="767.9" width="5.6" height="1.2" fill="#444"/>
<rect x="1472.9" y="766.3" width="3.8" height="4.4" fill="#222"/>
<rect x="1464.9" y="782.4" width="3.6" height="4.4" rx="1" fill="#222"/>
<rect x="1463.9" y="784.0" width="5.6" height="1.2" fill="#444"/>
<rect x="1472.9" y="782.4" width="3.8" height="4.4" fill="#222"/>
<rect x="1464.9" y="798.6" width="3.6" height="4.4" rx="1" fill="#222"/>
<rect x="1463.9" y="800.2" width="5.6" height="1.2" fill="#444"/>
<rect x="1472.9" y="798.6" width="3.8" height="4.4" fill="#222"/>
<rect x="1464.9" y="814.7" width="3.6" height="4.4" rx="1" fill="#222"/>
<rect x="1463.9" y="816.3" width="5.6" height="1.2" fill="#444"/>
<rect x="1472.9" y="814.7" width="3.8" height="4.4" fill="#222"/>
<rect x="1464.9" y="830.8" width="3.6" height="4.4" rx="1" fill="#222"/>
<rect x="1463.9" y="832.4" width="5.6" height="1.2" fill="#444"/>
<rect x="1472.9" y="830.8" width="3.8" height="4.4" fill="#222"/>
<rect x="1464.9" y="846.9" width="3.6" height="4.4" rx="1" fill="#222"/>
<rect x="1463.9" y="848.5" width="5.6" height="1.2" fill="#444"/>
<rect x="1472.9" y="846.9" width="3.8" height="4.4" fill="#222"/>
<rect x="1464.9" y="863.0" width="3.6" height="4.4" rx="1" fill="#222"/>
<rect x="1463.9" y="864.6" width="5.6" height="1.2" fill="#444"/>
<rect x="1472.9" y="863.0" width="3.8" height="4.4" fill="#222"/>
<rect x="1464.9" y="879.2" width="3.6" height="4.4" rx="1" fill="#222"/>
<rect x="1463.9" y="880.8" width="5.6" height="1.2" fill="#444"/>
<rect x="1472.9" y="879.2" width="3.8" height="4.4" fill="#222"/>
<rect x="1464.9" y="895.3" width="3.6" height="4.4" rx="1" fill="#222"/>
<rect x="1463.9" y="896.9" width="5.6" height="1.2" fill="#444"/>
<rect x="1472.9" y="895.3" width="3.8" height="4.4" fill="#222"/>
<rect x="1464.9" y="911.4" width="3.6" height="4.4" rx="1" fill="#222"/>
<rect x="1463.9" y="913.0" width="5.6" height="1.2" fill="#444"/>
<rect x="1472.9" y="911.4" width="3.8" height="4.4" fill="#222"/>
<rect x="1464.9" y="927.5" width="3.6" height="4.4" rx="1" fill="#222"/>
<rect x="1463.9" y="929.1" width="5.6" height="1.2" fill="#444"/>
<rect x="1472.9" y="927.5" width="3.8" height="4.4" fill="#222"/>
<rect x="1464.9" y="943.6" width="3.6" height="4.4" rx="1" fill="#222"/>
<rect x="1463.9" y="945.2" width="5.6" height="1.2" fill="#444"/>
<rect x="1472.9" y="943.6" width="3.8" height="4.4" fill="#222"/>
<rect x="1464.9" y="959.8" width="3.6" height="4.4" rx="1" fill="#222"/>
<rect x="1463.9" y="961.4" width="5.6" height="1.2" fill="#444"/>
<rect x="1472.9" y="959.8" width="3.8" height="4.4" fill="#222"/>
<rect x="1464.9" y="975.9" width="3.6" height="4.4" rx="1" fill="#222"/>
<rect x="1463.9" y="977.5" width="5.6" height="1.2" fill="#444"/>
<rect x="1472.9" y="975.9" width="3.8" height="4.4" fill="#222"/>
<rect x="1464.9" y="992.0" width="3.6" height="4.4" rx="1" fill="#222"/>
<rect x="1463.9" y="993.6" width="5.6" height="1.2" fill="#444"/>
<rect x="1472.9" y="992.0" width="3.8" height="4.4" fill="#222"/>
<rect x="1464.9" y="1008.1" width="3.6" height="4.4" rx="1" fill="#222"/>
<rect x="1463.9" y="1009.7" width="5.6" height="1.2" fill="#444"/>
<rect x="1472.9" y="1008.1" width="3.8" height="4.4" fill="#222"/>
<rect x="1464.9" y="1024.2" width="3.6" height="4.4" rx="1" fill="#222"/>
<rect x="1463.9" y="1025.8" width="5.6" height="1.2" fill="#444"/>
<rect x="1472.9" y="1024.2" width="3.8" height="4.4" fill="#222"/>
<rect x="1464.9" y="1040.4" width="3.6" height="4.4" rx="1" fill="#222"/>
<rect x="1463.9" y="1042.0" width="5.6" height="1.2" fill="#444"/>
<rect x="1472.9" y="1040.4" width="3.8" height="4.4" fill="#222"/>
<rect x="1464.9" y="1056.5" width="3.6" height="4.4" rx="1" fill="#222"/>
<rect x="1463.9" y="1058.1" width="5.6" height="1.2" fill="#444"/>
<rect x="1472.9" y="1056.5" width="3.8" height="4.4" fill="#222"/>
<rect x="1464.9" y="1072.6" width="3.6" height="4.4" rx="1" fill="#222"/>
<rect x="1463.9" y="1074.2" width="5.6" height="1.2" fill="#444"/>
<rect x="1472.9" y="1072.6" width="3.8" height="4.4" fill="#222"/>
<rect x="1464.9" y="1088.7" width="3.6" height="4.4" rx="1" fill="#222"/>
<rect x="1463.9" y="1090.3" width="5.6" height="1.2" fill="#444"/>
<rect x="1472.9" y="1088.7" width="3.8" height="4.4" fill="#222"/>
<rect x="1464.9" y="1104.8" width="3.6" height="4.4" rx="1" fill="#222"/>
<rect x="1463.9" y="1106.4" width="5.6" height="1.2" fill="#444"/>
<rect x="1472.9" y="1104.8" width="3.8" height="4.4" fill="#222"/>
<rect x="1464.9" y="1121.0" width="3.6" height="4.4" rx="1" fill="#222"/>
<rect x="1463.9" y="1122.6" width="5.6" height="1.2" fill="#444"/>
<rect x="1472.9" y="1121.0" width="3.8" height="4.4" fill="#222"/>
<rect x="1464.9" y="1137.1" width="3.6" height="4.4" rx="1" fill="#222"/>
<rect x="1463.9" y="1138.7" width="5.6" height="1.2" fill="#444"/>
<rect x="1472.9" y="1137.1" width="3.8" height="4.4" fill="#222"/>
<rect x="1464.9" y="1153.2" width="3.6" height="4.4" rx="1" fill="#222"/>
<rect x="1463.9" y="1154.8" width="5.6" height="1.2" fill="#444"/>
<rect x="1472.9" y="1153.2" width="3.8" height="4.4" fill="#222"/>
<rect x="1464.9" y="1169.3" width="3.6" height="4.4" rx="1" fill="#222"/>
<rect x="1463.9" y="1170.9" width="5.6" height="1.2" fill="#444"/>
<rect x="1472.9" y="1169.3" width="3.8" height="4.4" fill="#222"/>
<rect x="1464.9" y="1185.4" width="3.6" height="4.4" rx="1" fill="#222"/>
<rect x="1463.9" y="1187.0" width="5.6" height="1.2" fill="#444"/>
<rect x="1472.9" y="1185.4" width="3.8" height="4.4" fill="#222"/>
<rect x="1464.9" y="1201.6" width="3.6" height="4.4" rx="1" fill="#222"/>
<rect x="1463.9" y="1203.2" width="5.6" height="1.2" fill="#444"/>
<rect x="1472.9" y="1201.6" width="3.8" height="4.4" fill="#222"/>
<rect x="1464.9" y="1217.7" width="3.6" height="4.4" rx="1" fill="#222"/>
<rect x="1463.9" y="1219.3" width="5.6" height="1.2" fill="#444"/>
<rect x="1472.9" y="1217.7" width="3.8" height="4.4" fill="#222"/>
<line x1="1480.0" y1="356.2" x2="1491.4" y2="361.4" stroke="#111" stroke-width="1.65" />
<line x1="1480.0" y1="375.9" x2="1491.4" y2="379.8" stroke="#111" stroke-width="1.65" />
<line x1="1480.0" y1="389.0" x2="1491.4" y2="393.5" stroke="#111" stroke-width="1.65" />
<line x1="1480.0" y1="392.9" x2="1491.4" y2="398.1" stroke="#111" stroke-width="1.65" />
<line x1="1480.0" y1="417.1" x2="1491.4" y2="421.7" stroke="#111" stroke-width="1.65" />
<line x1="1485.0" y1="405.6" x2="1490.6" y2="409.8" stroke="#111" stroke-width="3.79" />
<line x1="1480.6" y1="402.2" x2="1480.6" y2="407.2" stroke="#111" stroke-width="2.64" />
<line x1="1480.0" y1="647.0" x2="1491.4" y2="652.2" stroke="#111" stroke-width="1.65" />
<line x1="1480.0" y1="666.7" x2="1491.4" y2="670.6" stroke="#111" stroke-width="1.65" />
<line x1="1480.0" y1="679.8" x2="1491.4" y2="684.3" stroke="#111" stroke-width="1.65" />
<line x1="1480.0" y1="683.7" x2="1491.4" y2="688.9" stroke="#111" stroke-width="1.65" />
<line x1="1480.0" y1="707.9" x2="1491.4" y2="712.5" stroke="#111" stroke-width="1.65" />
<line x1="1485.0" y1="696.4" x2="1490.6" y2="700.6" stroke="#111" stroke-width="3.79" />
<line x1="1480.6" y1="693.0" x2="1480.6" y2="698.0" stroke="#111" stroke-width="2.64" />
<line x1="1480.0" y1="1031.0" x2="1491.4" y2="1036.2" stroke="#111" stroke-width="1.65" />
<line x1="1480.0" y1="1050.7" x2="1491.4" y2="1054.6" stroke="#111" stroke-width="1.65" />
<line x1="1480.0" y1="1063.8" x2="1491.4" y2="1068.3" stroke="#111" stroke-width="1.65" />
<line x1="1480.0" y1="1067.7" x2="1491.4" y2="1072.9" stroke="#111" stroke-width="1.65" />
<line x1="1480.0" y1="1091.9" x2="1491.4" y2="1096.5" stroke="#111" stroke-width="1.65" />
<line x1="1485.0" y1="1080.4" x2="1490.6" y2="1084.6" stroke="#111" stroke-width="3.79" />
<line x1="1480.6" y1="1077.0" x2="1480.6" y2="1082.0" stroke="#111" stroke-width="2.64" />
<polyline points="1480.4,1097.0 1480.4,1139.0 1484.6,1139.0 1484.6,1097.0" fill="none" stroke="#111" stroke-width="1.81" stroke-linejoin="round" />
<polygon points="1194.6,298.3 1422.2,383.8 1422.2,1381.2 1412.9,1382.4 1194.6,1295.5" fill="#fff" stroke="none" stroke-width="0.0" stroke-linejoin="round" />
<line x1="1194.8" y1="300.9" x2="1421.4" y2="386.0" stroke="#161616" stroke-width="8.8" stroke-linecap="butt"/>
<line x1="1196.0" y1="301.6" x2="1420.0" y2="385.8" stroke="#b8b8b8" stroke-width="3.3" stroke-dasharray="1.6 3.2" stroke-linecap="butt"/>
<line x1="1414.6" y1="388.0" x2="1414.6" y2="1382.2" stroke="#111" stroke-width="2.97" />
<line x1="1422.2" y1="384.5" x2="1422.2" y2="1381.0" stroke="#111" stroke-width="2.47" />
<line x1="1412.9" y1="1382.4" x2="1422.2" y2="1381.0" stroke="#111" stroke-width="2.47" />
<line x1="1194.6" y1="1295.5" x2="1412.9" y2="1382.2" stroke="#111" stroke-width="2.47" />
<polygon points="1248.5,432.1 1358.6,473.6 1358.6,558.0 1248.5,515.2" fill="#fff" stroke="#111" stroke-width="1.73" stroke-linejoin="round" />
<polygon points="1260.5,452.2 1304.4,470.2 1304.4,482.9 1260.5,464.9" fill="none" stroke="#111" stroke-width="1.73" stroke-linejoin="round" />
<polygon points="1260.5,477.6 1304.4,495.6 1304.4,508.3 1260.5,490.3" fill="none" stroke="#111" stroke-width="1.73" stroke-linejoin="round" />
<polygon points="1260.2,499.5 1266.2,501.5 1266.2,508.7 1260.2,506.7" fill="none" stroke="#111" stroke-width="1.65" stroke-linejoin="round" />
<polygon points="1271.3,503.2 1277.3,505.2 1277.3,512.4 1271.3,510.4" fill="none" stroke="#111" stroke-width="1.65" stroke-linejoin="round" />
<polygon points="1280.6,507.2 1286.6,509.2 1286.6,516.4 1280.6,514.4" fill="none" stroke="#111" stroke-width="1.65" stroke-linejoin="round" />
<polygon points="1292.4,511.8 1298.4,513.8 1298.4,521.0 1292.4,519.0" fill="none" stroke="#111" stroke-width="1.65" stroke-linejoin="round" />
<ellipse cx="1317.5" cy="477.1" rx="2.2" ry="2.7" fill="#222"/>
<ellipse cx="1325.7" cy="480.4" rx="2.2" ry="2.7" fill="#222"/>
<ellipse cx="1333.8" cy="483.7" rx="2.2" ry="2.7" fill="#222"/>
<ellipse cx="1342.0" cy="487.0" rx="2.2" ry="2.7" fill="#222"/>
<ellipse cx="1350.1" cy="490.3" rx="2.2" ry="2.7" fill="#222"/>
<ellipse cx="1317.5" cy="488.8" rx="2.2" ry="2.7" fill="#222"/>
<ellipse cx="1325.7" cy="492.1" rx="2.2" ry="2.7" fill="#222"/>
<ellipse cx="1333.8" cy="495.4" rx="2.2" ry="2.7" fill="#222"/>
<ellipse cx="1342.0" cy="498.7" rx="2.2" ry="2.7" fill="#222"/>
<ellipse cx="1350.1" cy="502.0" rx="2.2" ry="2.7" fill="#222"/>
<ellipse cx="1317.5" cy="500.5" rx="2.2" ry="2.7" fill="#222"/>
<ellipse cx="1325.7" cy="503.8" rx="2.2" ry="2.7" fill="#222"/>
<ellipse cx="1333.8" cy="507.1" rx="2.2" ry="2.7" fill="#222"/>
<ellipse cx="1342.0" cy="510.4" rx="2.2" ry="2.7" fill="#222"/>
<ellipse cx="1350.1" cy="513.7" rx="2.2" ry="2.7" fill="#222"/>
<ellipse cx="1246.6" cy="589.7" rx="10.4" ry="12.9" fill="#fff" stroke="#1c1c1c" stroke-width="1.75"/>
<ellipse cx="1303.7" cy="612.1" rx="10.4" ry="12.9" fill="#fff" stroke="#1c1c1c" stroke-width="1.75"/>
<ellipse cx="1361" cy="634.2" rx="10.4" ry="12.9" fill="#fff" stroke="#1c1c1c" stroke-width="1.75"/>
<ellipse cx="1246.6" cy="660.8" rx="10.4" ry="12.9" fill="#fff" stroke="#1c1c1c" stroke-width="1.75"/>
<ellipse cx="1303.7" cy="682.7" rx="10.4" ry="12.9" fill="#fff" stroke="#1c1c1c" stroke-width="1.75"/>
<ellipse cx="1361" cy="705.4" rx="10.4" ry="12.9" fill="#fff" stroke="#1c1c1c" stroke-width="1.75"/>
<ellipse cx="1260.9" cy="727.6" rx="10.4" ry="12.9" fill="#fff" stroke="#1c1c1c" stroke-width="1.75"/>
<polygon points="1302.0,720.9 1339.0,733.6 1339.0,779.1 1302.0,765.2" fill="#fff" stroke="#111" stroke-width="1.65" stroke-linejoin="round" />
<ellipse cx="1319.4" cy="749" rx="10.4" ry="11.8" fill="none" stroke="#222" stroke-width="1.3"/>
<rect x="1316" y="750.4" width="5.2" height="16" fill="#fff" stroke="#222" stroke-width="1.2"/>
<rect x="1392.8" y="838" width="10.4" height="81" rx="5.2" ry="5.2" fill="#3c3c3c" stroke="#0c0c0c" stroke-width="2.2"/>
<rect x="1397.2" y="843" width="1.5" height="70" rx="0.7" fill="#c8c8c8"/>
<polygon points="832.4,137.6 1235.5,59.7 1522.5,62.2 1593.7,164.4 1594.9,170.3 1588.2,175.4 1187.9,249.6 1182.8,251.7 831.4,148.3" fill="#fff" stroke="none" stroke-width="0.0" stroke-linejoin="round" />
<polyline points="832.4,137.6 1235.5,59.7 1522.5,62.2 1593.7,164.4" fill="none" stroke="#111" stroke-width="1.48" stroke-linejoin="round" />
<line x1="832.4" y1="137.6" x2="1118.0" y2="140.3" stroke="#111" stroke-width="1.98" />
<line x1="836.4" y1="139.5" x2="1116.0" y2="142.2" stroke="#9a9a9a" stroke-width="1.48" />
<line x1="1118.0" y1="140.3" x2="1522.5" y2="62.2" stroke="#111" stroke-width="1.48" />
<line x1="1118.0" y1="140.3" x2="1187.5" y2="241.2" stroke="#111" stroke-width="1.48" />
<line x1="832.4" y1="137.6" x2="831.4" y2="148.3" stroke="#111" stroke-width="1.48" />
<line x1="831.4" y1="148.3" x2="1182.8" y2="251.7" stroke="#111" stroke-width="1.48" />
<polyline points="1187.5,241.2 1187.9,249.6 1182.8,251.7" fill="none" stroke="#111" stroke-width="1.48" stroke-linejoin="round" />
<line x1="1187.5" y1="241.2" x2="1593.7" y2="164.4" stroke="#111" stroke-width="1.65" />
<line x1="1188.0" y1="243.9" x2="1594.6" y2="167.2" stroke="#111" stroke-width="1.65" />
<line x1="1188.0" y1="246.6" x2="1593.8" y2="171.0" stroke="#111" stroke-width="1.65" />
<line x1="1187.9" y1="249.6" x2="1588.2" y2="175.4" stroke="#111" stroke-width="1.65" />
<polyline points="1593.7,164.4 1594.9,170.3 1588.2,175.4" fill="none" stroke="#111" stroke-width="1.48" stroke-linejoin="round" />
<!--ODOOR-->
<polygon points="1571.4,178.5 1849.6,292.5 1849.6,1419.5 1837.4,1419.6 1571.4,1305.5" fill="#fff" stroke="none" stroke-width="0.0" stroke-linejoin="round" />
<line x1="1576.5" y1="178.4" x2="1847.6" y2="293.4" stroke="#161616" stroke-width="7.4" stroke-linecap="butt"/>
<line x1="1578.0" y1="179.3" x2="1846.0" y2="293.0" stroke="#bdbdbd" stroke-width="2.8" stroke-dasharray="1.5 3.1" stroke-linecap="butt"/>
<line x1="1574.4" y1="192.0" x2="1574.4" y2="1296.8" stroke="#000" stroke-width="5.6" stroke-linecap="butt"/>
<line x1="1578.4" y1="182.0" x2="1578.4" y2="1296.0" stroke="#333" stroke-width="1.65" />
<line x1="1585.5" y1="204.0" x2="1585.5" y2="1283.0" stroke="#000" stroke-width="7.8" stroke-linecap="butt"/>
<line x1="1583.4" y1="1282.0" x2="1583.4" y2="1286.4" stroke="#000" stroke-width="5.94" stroke-linecap="butt"/>
<line x1="1587.8" y1="236.0" x2="1587.8" y2="1266.0" stroke="#fff" stroke-width="1.98" stroke-dasharray="11.6 3.8" stroke-linecap="butt"/>
<line x1="1591.4" y1="237.0" x2="1591.4" y2="1266.0" stroke="#484848" stroke-width="4.0" stroke-linecap="butt"/>
<line x1="1579.4" y1="215.0" x2="1579.4" y2="1290.0" stroke="#a4a4a4" stroke-width="2.97" stroke-linecap="butt"/>
<line x1="1599.8" y1="243.5" x2="1599.8" y2="1261.5" stroke="#111" stroke-width="1.65" />
<line x1="1847.9" y1="293.0" x2="1847.9" y2="1419.3" stroke="#000" stroke-width="3.46" stroke-linecap="butt"/>
<line x1="1839.7" y1="292.5" x2="1839.7" y2="1419.8" stroke="#5a5a5a" stroke-width="4.6" stroke-linecap="butt"/>
<line x1="1833.6" y1="303.8" x2="1833.6" y2="1406.5" stroke="#000" stroke-width="2.56" />
<line x1="1830.2" y1="313.0" x2="1830.2" y2="1386.0" stroke="#bdbdbd" stroke-width="4.0" stroke-linecap="butt"/>
<line x1="1826.9" y1="320.6" x2="1826.9" y2="1378.0" stroke="#000" stroke-width="2.47" />
<line x1="1821.6" y1="325.7" x2="1821.6" y2="1372.0" stroke="#000" stroke-width="2.15" />
<line x1="1817.7" y1="334.0" x2="1817.7" y2="1362.0" stroke="#999" stroke-width="3.3" stroke-dasharray="7 2.6" stroke-linecap="butt"/>
<line x1="1814.9" y1="334.9" x2="1814.9" y2="1353.0" stroke="#000" stroke-width="2.15" />
<line x1="1578.4" y1="193.5" x2="1834.0" y2="302.6" stroke="#111" stroke-width="1.81" />
<line x1="1582.0" y1="204.8" x2="1833.2" y2="307.2" stroke="#161616" stroke-width="5.2" stroke-linecap="butt"/>
<line x1="1584.0" y1="205.9" x2="1832.0" y2="306.5" stroke="#bdbdbd" stroke-width="2.15" stroke-dasharray="1.4 3.2" stroke-linecap="butt"/>
<line x1="1584.7" y1="216.0" x2="1827.3" y2="320.6" stroke="#000" stroke-width="4.62" />
<line x1="1587.5" y1="222.8" x2="1822.7" y2="324.0" stroke="#111" stroke-width="1.98" />
<line x1="1589.4" y1="230.5" x2="1819.0" y2="327.3" stroke="#111" stroke-width="2.31" />
<line x1="1590.0" y1="234.5" x2="1817.0" y2="331.3" stroke="#111" stroke-width="4.0" stroke-dasharray="1.6 4.6" stroke-linecap="butt"/>
<line x1="1591.3" y1="239.8" x2="1814.3" y2="334.9" stroke="#111" stroke-width="2.64" />
<line x1="1568.8" y1="1304.3" x2="1837.4" y2="1419.1" stroke="#111" stroke-width="2.47" />
<line x1="1574.6" y1="1295.0" x2="1834.5" y2="1406.5" stroke="#111" stroke-width="2.47" />
<line x1="1583.7" y1="1286.0" x2="1833.6" y2="1393.1" stroke="#111" stroke-width="2.47" />
<line x1="1587.0" y1="1276.4" x2="1827.3" y2="1378.0" stroke="#000" stroke-width="4.29" />
<line x1="1590.5" y1="1270.5" x2="1819.0" y2="1370.4" stroke="#111" stroke-width="4.0" stroke-dasharray="1.6 4.6" stroke-linecap="butt"/>
<line x1="1590.4" y1="1263.4" x2="1815.6" y2="1360.3" stroke="#111" stroke-width="2.31" />
<line x1="1593.0" y1="1268.8" x2="1817.0" y2="1366.3" stroke="#111" stroke-width="1.98" />
<line x1="1599.8" y1="1261.5" x2="1813.9" y2="1352.8" stroke="#111" stroke-width="1.98" />
<line x1="1837.4" y1="1419.4" x2="1849.6" y2="1419.4" stroke="#111" stroke-width="2.64" />
<rect x="1560.4" y="336.4" width="12.6" height="39.2" fill="#fff" stroke="#111" stroke-width="2"/>
<rect x="1561.2" y="337.4" width="1.6" height="37.2" fill="#bbb"/>
<line x1="1563.2" y1="336.4" x2="1563.2" y2="375.6" stroke="#111" stroke-width="1.2" />
<line x1="1572.6" y1="336.4" x2="1577.4" y2="336.4" stroke="#111" stroke-width="2.2" stroke-linecap="butt"/>
<line x1="1572.6" y1="375.6" x2="1577.4" y2="375.6" stroke="#111" stroke-width="2.2" stroke-linecap="butt"/>
<rect x="1574.2" y="338.0" width="1.8" height="36.0" fill="#fff"/>
<rect x="1560.4" y="721.6" width="12.6" height="40.0" fill="#fff" stroke="#111" stroke-width="2"/>
<rect x="1561.2" y="722.6" width="1.6" height="38.0" fill="#bbb"/>
<line x1="1563.2" y1="721.6" x2="1563.2" y2="761.6" stroke="#111" stroke-width="1.2" />
<line x1="1572.6" y1="721.6" x2="1577.4" y2="721.6" stroke="#111" stroke-width="2.2" stroke-linecap="butt"/>
<line x1="1572.6" y1="761.6" x2="1577.4" y2="761.6" stroke="#111" stroke-width="2.2" stroke-linecap="butt"/>
<rect x="1574.2" y="723.2" width="1.8" height="36.8" fill="#fff"/>
<rect x="1560.4" y="1109.0" width="12.6" height="39.0" fill="#fff" stroke="#111" stroke-width="2"/>
<rect x="1561.2" y="1110.0" width="1.6" height="37.0" fill="#bbb"/>
<line x1="1563.2" y1="1109.0" x2="1563.2" y2="1148.0" stroke="#111" stroke-width="1.2" />
<line x1="1572.6" y1="1109.0" x2="1577.4" y2="1109.0" stroke="#111" stroke-width="2.2" stroke-linecap="butt"/>
<line x1="1572.6" y1="1148.0" x2="1577.4" y2="1148.0" stroke="#111" stroke-width="2.2" stroke-linecap="butt"/>
<rect x="1574.2" y="1110.6" width="1.8" height="35.8" fill="#fff"/>
</g>
</svg></body></html>
